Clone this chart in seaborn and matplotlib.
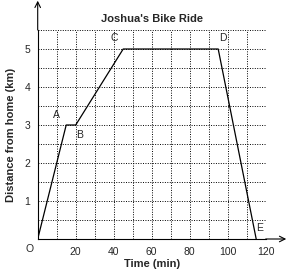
import matplotlib
matplotlib.use("Agg")
import matplotlib.pyplot as plt
import seaborn as sns
import numpy as np
import pandas as pd

time_min = [0, 15, 20, 45, 95, 115]
distance_km = [0, 3, 3, 5, 5, 0]
point_names = ["A", "B", "C", "D", "E"]
label_x = [10, 22, 40.5, 97.5, 117]
label_y = [3.25, 2.75, 5.3, 5.3, 0.3]
x_tick_labels = ["20", "40", "60", "80", "100", "120"]
y_tick_labels = ["1", "2", "3", "4", "5"]

sns.set_style("white")
plt.rcParams['font.family'] = ['Liberation Sans', 'DejaVu Sans']

fig = plt.figure(figsize=(2.87, 2.76), dpi=100)
ax = fig.add_axes([37.7/287, 1-239/276, 228/287, 209/276])

df = pd.DataFrame({"Time": time_min, "Distance": distance_km})
sns.lineplot(data=df, x="Time", y="Distance", ax=ax, color="black", linewidth=0.9, sort=False)

xt = np.arange(0, 121, 10)
yt = np.arange(0, 5.51, 0.5)
ax.set_xlim(0, 120)
ax.set_ylim(0, 5.5)
ax.set_xticks(xt)
ax.set_yticks(yt)
ax.set_xticklabels([x_tick_labels[x_tick_labels.index(str(int(v)))] if str(int(v)) in x_tick_labels else "" for v in xt], fontsize=7.5)
ax.set_yticklabels([str(int(v)) if (v % 1 == 0 and str(int(v)) in y_tick_labels) else "" for v in yt], fontsize=7.5)
ax.grid(True, color="black", linestyle=(0, (1, 1.5)), linewidth=0.7)
ax.tick_params(axis="both", direction="inout", length=5, width=0.8, color="black", pad=3)
for s in ["top", "right"]:
    ax.spines[s].set_visible(False)
for s in ["left", "bottom"]:
    ax.spines[s].set_color("black")
    ax.spines[s].set_linewidth(0.8)

# axis arrows
ax.annotate("", xy=(0, 1.14), xytext=(0, 1.0), xycoords="axes fraction",
            arrowprops=dict(arrowstyle="->", color="black", lw=0.8, shrinkA=0, shrinkB=0), annotation_clip=False)
ax.annotate("", xy=(1.09, 0), xytext=(1.0, 0), xycoords="axes fraction",
            arrowprops=dict(arrowstyle="->", color="black", lw=0.8, shrinkA=0, shrinkB=0), annotation_clip=False)

for n, lx, ly in zip(point_names, label_x, label_y):
    ax.text(lx, ly, n, fontsize=7.5, ha="center", va="center")
ax.text(-4.5, -0.25, "O", fontsize=7.5, ha="center", va="center", clip_on=False)

ax.set_title("Joshua's Bike Ride", fontsize=8, fontweight="bold", pad=6)
ax.set_xlabel("Time (min)", fontsize=8, fontweight="bold", labelpad=2)
ax.set_ylabel("Distance from home (km)", fontsize=8, fontweight="bold", labelpad=6)

fig.savefig("out.png", dpi=100)
